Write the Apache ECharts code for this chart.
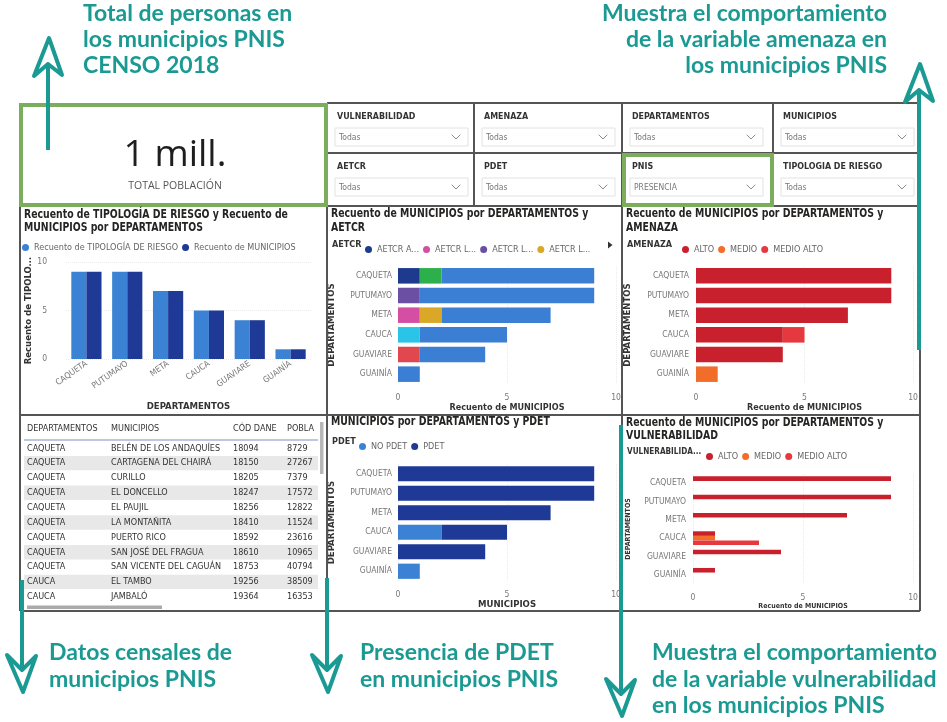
<!DOCTYPE html>
<html><head><meta charset="utf-8">
<script src="https://cdn.jsdelivr.net/npm/echarts@6/dist/echarts.min.js"></script>
<style>html,body{margin:0;padding:0;background:#fff}#c{width:947px;height:722px}</style>
</head><body><div id="c"></div><script>
// ---------- DATA ----------
const departamentos = ['CAQUETA','PUTUMAYO','META','CAUCA','GUAVIARE','GUAINÍA'];
// Chart 1: Recuento de TIPOLOGÍA DE RIESGO y Recuento de MUNICIPIOS
const recuentoTipologia = [9, 9, 7, 5, 4, 1];
const recuentoMunicipios = [9, 9, 7, 5, 4, 1];
// Chart 2: AETCR (stacked)
const aetcrNames = ['AETCR Agua Bonita','AETCR La Guajira','AETCR La Carmelita','AETCR La Macarena','AETCR Miravalle','AETCR Monterredondo','AETCR Colinas','(En blanco)'];
const aetcrAguaBonita   = [1, null, null, null, null, null];
const aetcrLaGuajira    = [null, null, 1, null, null, null];
const aetcrLaCarmelita  = [null, 1, null, null, null, null];
const aetcrLaMacarena   = [null, null, 1, null, null, null];
const aetcrMiravalle    = [1, null, null, null, null, null];
const aetcrMonterredondo= [null, null, null, 1, null, null];
const aetcrColinas      = [null, null, null, null, 1, null];
const aetcrEnBlanco     = [7, 8, 5, 4, 3, 1];
// Chart 3: AMENAZA (stacked)
const amenazaAlto      = [9, 9, 7, 4, 4, null];
const amenazaMedio     = [null, null, null, null, null, 1];
const amenazaMedioAlto = [null, null, null, 1, null, null];
// Chart 5: PDET (stacked)
const noPdet = [null, null, null, 2, null, 1];
const pdet   = [9, 9, 7, 3, 4, null];
// Chart 6: VULNERABILIDAD (clustered)
const vulAlto      = [9, 9, 7, 1, 4, 1];
const vulMedio     = [null, null, null, 1, null, null];
const vulMedioAlto = [null, null, null, 3, null, null];
// Table
const tablaHeader = ['DEPARTAMENTOS','MUNICIPIOS','CÓD DANE','POBLA'];
const tablaDepto = ['CAQUETA','CAQUETA','CAQUETA','CAQUETA','CAQUETA','CAQUETA','CAQUETA','CAQUETA','CAQUETA','CAUCA','CAUCA'];
const tablaMunicipio = ['BELÉN DE LOS ANDAQUÍES','CARTAGENA DEL CHAIRÁ','CURILLO','EL DONCELLO','EL PAUJIL','LA MONTAÑITA','PUERTO RICO','SAN JOSÉ DEL FRAGUA','SAN VICENTE DEL CAGUÁN','EL TAMBO','JAMBALÓ'];
const tablaCodDane = ['18094','18150','18205','18247','18256','18410','18592','18610','18753','19256','19364'];
const tablaPoblacion = ['8729','27267','7379','17572','12822','11524','23616','10965','40794','38509','16353'];
// Filters
const filtroLabels = ['VULNERABILIDAD','AMENAZA','DEPARTAMENTOS','MUNICIPIOS','AETCR','PDET','PNIS','TIPOLOGIA DE RIESGO'];
const filtroValores = ['Todas','Todas','Todas','Todas','Todas','Todas','PRESENCIA','Todas'];
// KPI
const kpiValor = '1 mill.';
const kpiLabel = 'TOTAL POBLACIÓN';

// ---------- STYLE ----------
const F = "'Liberation Sans Narrow','Arial Narrow','DejaVu Sans Condensed',Roboto,sans-serif";
const A = "Lato,'Open Sans',sans-serif";
const TEAL = '#1a9a93';
const GREEN = '#7aad5c';
const BORDER = '#555';
const TITLE = '#252423';
const LBL = '#777';
const BLUE_L = '#3b82d4', BLUE_D = '#1e3a96';
const R_ALTO = '#c8202d', R_MEDIO = '#f26d2a', R_MEDIOALTO = '#e6383f';
const aetcrColors = ['#1d3a8f','#d44fa3','#6b4fa3','#d9a826','#2db04b','#29c4e8','#e0474f', '#3a7fd3'];

const G = [];
function txt(x, y, text, o) {
  o = o || {};
  G.push({type:'text', x:x, y:y, scaleX:o.sx||1, silent:true, z:o.z||20,
    style:{text:text, fill:o.fill||TITLE, fontSize:o.size||10, fontFamily:o.family||F,
      fontWeight:o.weight||'normal', align:o.align||'left', verticalAlign:o.va||'middle',
      textAlign:o.align||'left', textVerticalAlign:o.va||'middle'}});
}
function line(x1,y1,x2,y2,stroke,w,z){
  G.push({type:'line', silent:true, z:z||15, shape:{x1:x1,y1:y1,x2:x2,y2:y2}, style:{stroke:stroke, lineWidth:w}});
}
function poly(points, stroke, w, z){
  G.push({type:'polyline', silent:true, z:z||15, shape:{points:points}, style:{stroke:stroke, lineWidth:w, fill:null, lineCap:'round', lineJoin:'round'}});
}
function rect(x,y,w,h,fill,stroke,lw,z){
  G.push({type:'rect', silent:true, z:z||5, shape:{x:x,y:y,width:w,height:h}, style:{fill:fill||null, stroke:stroke||null, lineWidth:lw||0}});
}

// Annotations
const ANN = {fill:TEAL, size:23, family:A, weight:'bold'};
const annTL = ['Total de personas en','los municipios PNIS','CENSO 2018'];
annTL.forEach((t,i)=>txt(83, 14+i*25.8, t, ANN));
const annTR = ['Muestra el comportamiento','de la variable amenaza en','los municipios PNIS'];
annTR.forEach((t,i)=>txt(887, 14+i*25.8, t, Object.assign({align:'right'}, ANN)));
const annB1 = ['Datos censales de','municipios PNIS'];
annB1.forEach((t,i)=>txt(49, 653+i*26.5, t, ANN));
const annB2 = ['Presencia de PDET','en municipios PNIS'];
annB2.forEach((t,i)=>txt(360, 653+i*26.5, t, ANN));
const annB3 = ['Muestra el comportamiento','de la variable vulnerabilidad','en los municipios PNIS'];
annB3.forEach((t,i)=>txt(652, 653+i*26.5, t, ANN));

// Arrows
function arrowUp(x, yBottom, yTip){
  line(x, yBottom, x, yTip+26, TEAL, 4, 40);
  poly([[x, yTip+26],[x-14, yTip+38],[x+1, yTip],[x+14, yTip+37],[x, yTip+26]], TEAL, 4, 40);
}
function arrowDown(x, yTop, yTip){
  line(x, yTop, x, yTip-22, TEAL, 4, 40);
  poly([[x, yTip-22],[x-15, yTip-37],[x+1, yTip],[x+14, yTip-36],[x, yTip-22]], TEAL, 4, 40);
}
arrowUp(48, 150, 38);
arrowUp(919, 350, 64);
arrowDown(22, 580, 692);
arrowDown(327, 578, 692);
arrowDown(621, 425, 716);

// Panel borders
line(327,103,920,103,BORDER,2);
line(327,153,920,153,BORDER,2);
line(20,206,920,206,BORDER,2);
line(20,415,920,415,BORDER,2);
line(20,611,920,611,BORDER,2);
line(20,206,20,611,BORDER,2);
line(327,103,327,611,BORDER,2);
line(474,103,474,206,BORDER,2);
line(622,103,622,611,BORDER,2);
line(773,103,773,206,BORDER,2);
line(920,103,920,611,BORDER,2);

// KPI card
rect(21,105,305,100,'#fff',GREEN,4,18);
txt(175, 155, kpiValor, {size:37, family:"'Open Sans',sans-serif", fill:'#1e1e1e', align:'center'});
txt(175, 186, kpiLabel, {size:10.5, family:"'Open Sans',sans-serif", fill:'#555', align:'center'});

// Filters
const fx = [327, 474, 622, 773], fy = [103, 153];
filtroLabels.forEach((lab, i) => {
  const cx = fx[i % 4], cy = fy[Math.floor(i / 4)];
  txt(cx+10, cy+14, lab, {size:9.5, weight:'bold', fill:'#333', sx:0.93});
  rect(cx+8, cy+25, 133, 18, '#fff', '#e2e2e2', 1, 6);
  txt(cx+12, cy+35, filtroValores[i], {size:8.5, fill:'#777'});
  poly([[cx+125, cy+32],[cx+129, cy+36],[cx+133, cy+32]], '#8a8a8a', 1, 16);
});
rect(624,155,148,50,null,GREEN,4,18);

// Chart titles
const TT = {size:12.5, weight:'bold', sx:0.83};
txt(24, 215, 'Recuento de TIPOLOGÍA DE RIESGO y Recuento de', TT);
txt(24, 228, 'MUNICIPIOS por DEPARTAMENTOS', TT);
txt(331, 214, 'Recuento de MUNICIPIOS por DEPARTAMENTOS y', TT);
txt(331, 228, 'AETCR', TT);
txt(626, 214, 'Recuento de MUNICIPIOS por DEPARTAMENTOS y', TT);
txt(626, 228, 'AMENAZA', TT);
txt(331, 422, 'MUNICIPIOS por DEPARTAMENTOS y PDET', TT);
txt(626, 423, 'Recuento de MUNICIPIOS por DEPARTAMENTOS y', TT);
txt(626, 436, 'VULNERABILIDAD', TT);

// Legend prefixes
txt(332, 245, 'AETCR', {size:9, weight:'bold', fill:'#333'});
txt(627, 245, 'AMENAZA', {size:9, weight:'bold', fill:'#333'});
txt(332, 442, 'PDET', {size:9, weight:'bold', fill:'#333'});
txt(627, 452, 'VULNERABILIDA...', {size:9, weight:'bold', fill:'#333', sx:0.9});
G.push({type:'polygon', silent:true, z:20, shape:{points:[[608,241.5],[612.5,245],[608,248.5]]}, style:{fill:'#333'}});

// Table
const colX = [27, 111, 233, 287];
tablaHeader.forEach((h,i)=>txt(colX[i], 429, h, {size:9, fill:'#333'}));
line(24, 440, 318, 440, '#a9b4d6', 1.5, 16);
tablaDepto.forEach((d, r) => {
  const yc = 448.3 + r * 14.84;
  if (r % 2 === 1) rect(24, yc-7.2, 294, 14.4, '#e8e8e8', null, 0, 6);
  txt(colX[0], yc, d, {size:9, fill:'#333'});
  txt(colX[1], yc, tablaMunicipio[r], {size:9, fill:'#333'});
  txt(colX[2], yc, tablaCodDane[r], {size:9, fill:'#333'});
  txt(colX[3], yc, tablaPoblacion[r], {size:9, fill:'#333'});
});
rect(320, 422, 3.5, 52, '#b8b8b8', null, 0, 16);
rect(27, 605.5, 135, 3.5, '#aaaaaa', null, 0, 16);

// ---------- AXES ----------
const splitStyle = {show:true, lineStyle:{color:'#ececec', type:'dotted', width:1}};
function valAxis(idx, name, nameGap, nameSize, labelMargin){
  return {type:'value', gridIndex:idx, min:0, max:10, interval:5, name:name, nameLocation:'middle', nameGap:nameGap,
    nameTextStyle:{fontFamily:F, fontWeight:'bold', fontSize:nameSize, color:'#333'},
    axisLine:{show:false}, axisTick:{show:false}, splitLine:splitStyle,
    axisLabel:{color:LBL, fontSize:8.5, fontFamily:F, margin:labelMargin}};
}
function catY(idx, name, gap, nameSize, margin){
  return {type:'category', gridIndex:idx, data:departamentos, inverse:true, name:name,
    nameLocation:'middle', nameGap:gap, nameRotate:90,
    nameTextStyle:{fontFamily:F, fontWeight:'bold', fontSize:nameSize, color:'#333'},
    axisLine:{show:false}, axisTick:{show:false}, axisLabel:{color:LBL, fontSize:8.5, fontFamily:F, margin:margin}};
}
const LEG = {icon:'circle', itemWidth:7, itemHeight:7, itemGap:4, textStyle:{color:'#666', fontSize:9, fontFamily:F}};

const option = {
  animation:false,
  backgroundColor:'#fff',
  grid:[
    {left:66, top:262, width:245, height:97},
    {left:398, top:266, width:218, height:118},
    {left:696, top:266, width:217, height:118},
    {left:398, top:464, width:218, height:117},
    {left:693, top:474, width:220, height:110}
  ],
  xAxis:[
    {type:'category', gridIndex:0, data:departamentos, name:'DEPARTAMENTOS', nameLocation:'middle', nameGap:43,
      nameTextStyle:{fontFamily:F, fontWeight:'bold', fontSize:9.5, color:'#333'},
      axisLine:{show:false}, axisTick:{show:false},
      axisLabel:{color:LBL, fontSize:8.5, fontFamily:F, rotate:35, interval:0, margin:4}},
    valAxis(1, 'Recuento de MUNICIPIOS', 18, 9, 9),
    valAxis(2, 'Recuento de MUNICIPIOS', 18, 9, 9),
    valAxis(3, 'MUNICIPIOS', 19, 9.5, 9),
    valAxis(4, 'Recuento de MUNICIPIOS', 19, 7, 9)
  ],
  yAxis:[
    {type:'value', gridIndex:0, min:0, max:10, interval:5, name:'Recuento de TIPOLO...', nameLocation:'middle', nameGap:31,
      nameTextStyle:{fontFamily:F, fontWeight:'bold', fontSize:9.5, color:'#333'},
      axisLine:{show:false}, axisTick:{show:false}, splitLine:splitStyle,
      axisLabel:{color:LBL, fontSize:8.5, fontFamily:F, margin:19}},
    catY(1, 'DEPARTAMENTOS', 61, 9.5, 6),
    catY(2, 'DEPARTAMENTOS', 63, 9.5, 7),
    catY(3, 'DEPARTAMENTOS', 61, 9.5, 6),
    catY(4, 'DEPARTAMENTOS', 61, 7, 7)
  ],
  legend:[
    Object.assign({left:17, top:238, data:['Recuento de TIPOLOGÍA DE RIESGO','Recuento de MUNICIPIOS']}, LEG),
    Object.assign({left:360, top:240, data:aetcrNames.slice(0,4),
      formatter:function(n){return n.length>7 ? n.slice(0,7)+'...' : n;}}, LEG),
    Object.assign({left:677, top:240, data:['ALTO','MEDIO','MEDIO ALTO']}, LEG),
    Object.assign({left:354, top:437, data:['NO PDET','PDET']}, LEG),
    Object.assign({left:701, top:447, data:['ALTO','MEDIO','MEDIO ALTO']}, LEG)
  ],
  graphic:{elements:G},
  series:[]
};

// Chart 1 series
option.series.push({type:'bar', name:'Recuento de TIPOLOGÍA DE RIESGO', xAxisIndex:0, yAxisIndex:0, data:recuentoTipologia,
  itemStyle:{color:BLUE_L}, barGap:'0%', barCategoryGap:'26%'});
option.series.push({type:'bar', name:'Recuento de MUNICIPIOS', xAxisIndex:0, yAxisIndex:0, data:recuentoMunicipios,
  itemStyle:{color:BLUE_D}, barGap:'0%', barCategoryGap:'26%'});
// Chart 2 series
const aetcrData = [aetcrAguaBonita, aetcrLaGuajira, aetcrLaCarmelita, aetcrLaMacarena, aetcrMiravalle, aetcrMonterredondo, aetcrColinas, aetcrEnBlanco];
aetcrNames.forEach((n,i)=>option.series.push({type:'bar', name:n, stack:'aetcr', xAxisIndex:1, yAxisIndex:1, data:aetcrData[i],
  itemStyle:{color:aetcrColors[i]}, barCategoryGap:'21%'}));
// Chart 3 series
[['ALTO',amenazaAlto,R_ALTO],['MEDIO',amenazaMedio,R_MEDIO],['MEDIO ALTO',amenazaMedioAlto,R_MEDIOALTO]].forEach(s=>
  option.series.push({type:'bar', name:s[0], stack:'amenaza', xAxisIndex:2, yAxisIndex:2, data:s[1], itemStyle:{color:s[2]}, barCategoryGap:'21%'}));
// Chart 5 series
[['NO PDET',noPdet,BLUE_L],['PDET',pdet,BLUE_D]].forEach(s=>
  option.series.push({type:'bar', name:s[0], stack:'pdet', xAxisIndex:3, yAxisIndex:3, data:s[1], itemStyle:{color:s[2]}, barCategoryGap:'22%'}));
// Chart 6 series
[['ALTO',vulAlto,R_ALTO],['MEDIO',vulMedio,R_MEDIO],['MEDIO ALTO',vulMedioAlto,R_MEDIOALTO]].forEach(s=>
  option.series.push({type:'bar', name:s[0], xAxisIndex:4, yAxisIndex:4, data:s[1], itemStyle:{color:s[2]}, barGap:'0%', barCategoryGap:'25%'}));

const chart = echarts.init(document.getElementById('c'));
chart.setOption(option);
</script></body></html>
